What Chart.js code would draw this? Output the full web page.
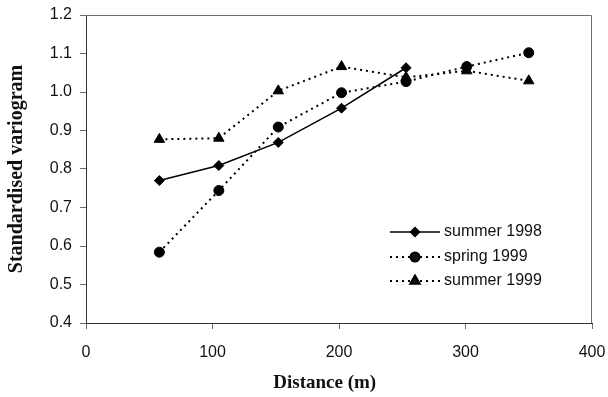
<!DOCTYPE html>
<html>
<head>
<meta charset="utf-8">
<title>Standardised variogram</title>
<script src="https://cdn.jsdelivr.net/npm/chart.js@4/dist/chart.umd.min.js"></script>
<style>
  html, body { margin: 0; padding: 0; background: #fff; }
  #wrap { width: 608px; height: 397px; }
</style>
</head>
<body>
<div id="wrap"><canvas id="variogramChart" width="608" height="397"></canvas></div>
<script>
// Lag distances (m) and standardised variogram values
const distance = [58, 105, 152, 202, 253, 301, 350];
const summer1998 = [0.770, 0.809, 0.869, 0.958, 1.063];
const spring1999 = [0.584, 0.744, 0.909, 0.998, 1.027, 1.066, 1.102];
const summer1999 = [0.877, 0.880, 1.003, 1.066, 1.038, 1.055, 1.029];

const seriesNames = ['summer 1998', 'spring 1999', 'summer 1999'];
const xTicks = [0, 100, 200, 300, 400];
const yTicks = [0.4, 0.5, 0.6, 0.7, 0.8, 0.9, 1.0, 1.1, 1.2];

function toPoints(values) {
    return values.map((v, i) => ({ x: distance[i], y: v }));
}

// Plot frame (top and right edges) like the spreadsheet original
const framePlugin = {
    id: 'frame',
    beforeDatasetsDraw(chart) {
        const { ctx, chartArea: a } = chart;
        ctx.save();
        ctx.strokeStyle = '#6e6e6e';
        ctx.lineWidth = 1;
        ctx.beginPath();
        ctx.moveTo(a.left, a.top + 0.5);
        ctx.lineTo(a.right - 0.5, a.top + 0.5);
        ctx.lineTo(a.right - 0.5, a.bottom);
        ctx.stroke();
        ctx.restore();
    }
};

// Legend drawn inside the plot area, lower right
const insideLegend = {
    id: 'insideLegend',
    afterDraw(chart) {
        const { ctx, chartArea: a } = chart;
        const x0 = a.right - 202;
        const x1 = a.right - 152;
        const rows = [a.bottom - 91, a.bottom - 66, a.bottom - 42];
        ctx.save();
        chart.data.datasets.forEach((ds, i) => {
            const y = rows[i];
            ctx.strokeStyle = ds.borderColor;
            ctx.lineWidth = ds.borderWidth;
            ctx.setLineDash(ds.borderDash || []);
            ctx.beginPath();
            ctx.moveTo(x0, y);
            ctx.lineTo(x1, y);
            ctx.stroke();
            ctx.setLineDash([]);
            Chart.helpers.drawPoint(ctx, {
                pointStyle: ds.pointStyle,
                radius: ds.pointRadius - 0.5,
                borderWidth: 1
            }, (x0 + x1) / 2, y);
            ctx.fillStyle = '#111';
            ctx.font = '16px "Liberation Sans", Arial, sans-serif';
            ctx.textAlign = 'left';
            ctx.textBaseline = 'middle';
            ctx.fillText(ds.label, x1 + 4, y);
        });
        ctx.restore();
    }
};

const tickFont = { family: '"Liberation Sans", Arial, sans-serif', size: 16 };
const titleFont = { family: '"Liberation Serif", "Times New Roman", serif', weight: 'bold' };

new Chart(document.getElementById('variogramChart'), {
    type: 'line',
    data: {
        datasets: [
            {
                label: seriesNames[0],
                data: toPoints(summer1998),
                borderColor: '#000',
                backgroundColor: '#000',
                borderWidth: 1.5,
                pointStyle: 'rectRot',
                pointRadius: 5,
                pointBorderWidth: 1
            },
            {
                label: seriesNames[1],
                data: toPoints(spring1999),
                borderColor: '#000',
                backgroundColor: '#000',
                borderWidth: 2,
                borderDash: [2, 4],
                pointStyle: 'circle',
                pointRadius: 5,
                pointBorderWidth: 1
            },
            {
                label: seriesNames[2],
                data: toPoints(summer1999),
                borderColor: '#000',
                backgroundColor: '#000',
                borderWidth: 2,
                borderDash: [2, 4],
                pointStyle: 'triangle',
                pointRadius: 6,
                pointBorderWidth: 1
            }
        ]
    },
    options: {
        responsive: false,
        animation: false,
        layout: { padding: { top: 15, right: 16, left: 0, bottom: 0 } },
        plugins: {
            legend: { display: false },
            tooltip: { enabled: false }
        },
        scales: {
            x: {
                type: 'linear',
                min: xTicks[0],
                max: xTicks[xTicks.length - 1],
                afterFit(scale) {
                    scale.height = 74;
                    scale.paddingLeft = 0;
                    scale.paddingRight = 0;
                },
                afterBuildTicks(scale) { scale.ticks = xTicks.map(v => ({ value: v })); },
                grid: { drawOnChartArea: false, tickLength: 6, color: '#6e6e6e' },
                border: { color: '#333', width: 1 },
                ticks: { font: tickFont, color: '#111', padding: 14 },
                title: {
                    display: true,
                    // trailing spaces nudge the centred title left, as in the original
                    text: 'Distance (m)\u00a0\u00a0\u00a0\u00a0\u00a0\u00a0',
                    font: { ...titleFont, size: 19 },
                    color: '#111',
                    padding: { top: 0, bottom: 3 }
                }
            },
            y: {
                min: yTicks[0],
                max: yTicks[yTicks.length - 1],
                afterFit(scale) {
                    scale.width = 86;
                    scale.paddingTop = 0;
                    scale.paddingBottom = 0;
                },
                afterBuildTicks(scale) { scale.ticks = yTicks.map(v => ({ value: v })); },
                grid: { drawOnChartArea: false, tickLength: 6, color: '#6e6e6e' },
                border: { color: '#333', width: 1 },
                ticks: {
                    font: tickFont,
                    color: '#111',
                    padding: 8,
                    callback: v => Number(v).toFixed(1)
                },
                title: {
                    display: true,
                    text: 'Standardised variogram',
                    font: { ...titleFont, size: 20 },
                    color: '#111',
                    padding: { top: 5, bottom: 0 }
                }
            }
        }
    },
    plugins: [framePlugin, insideLegend]
});
</script>
</body>
</html>
